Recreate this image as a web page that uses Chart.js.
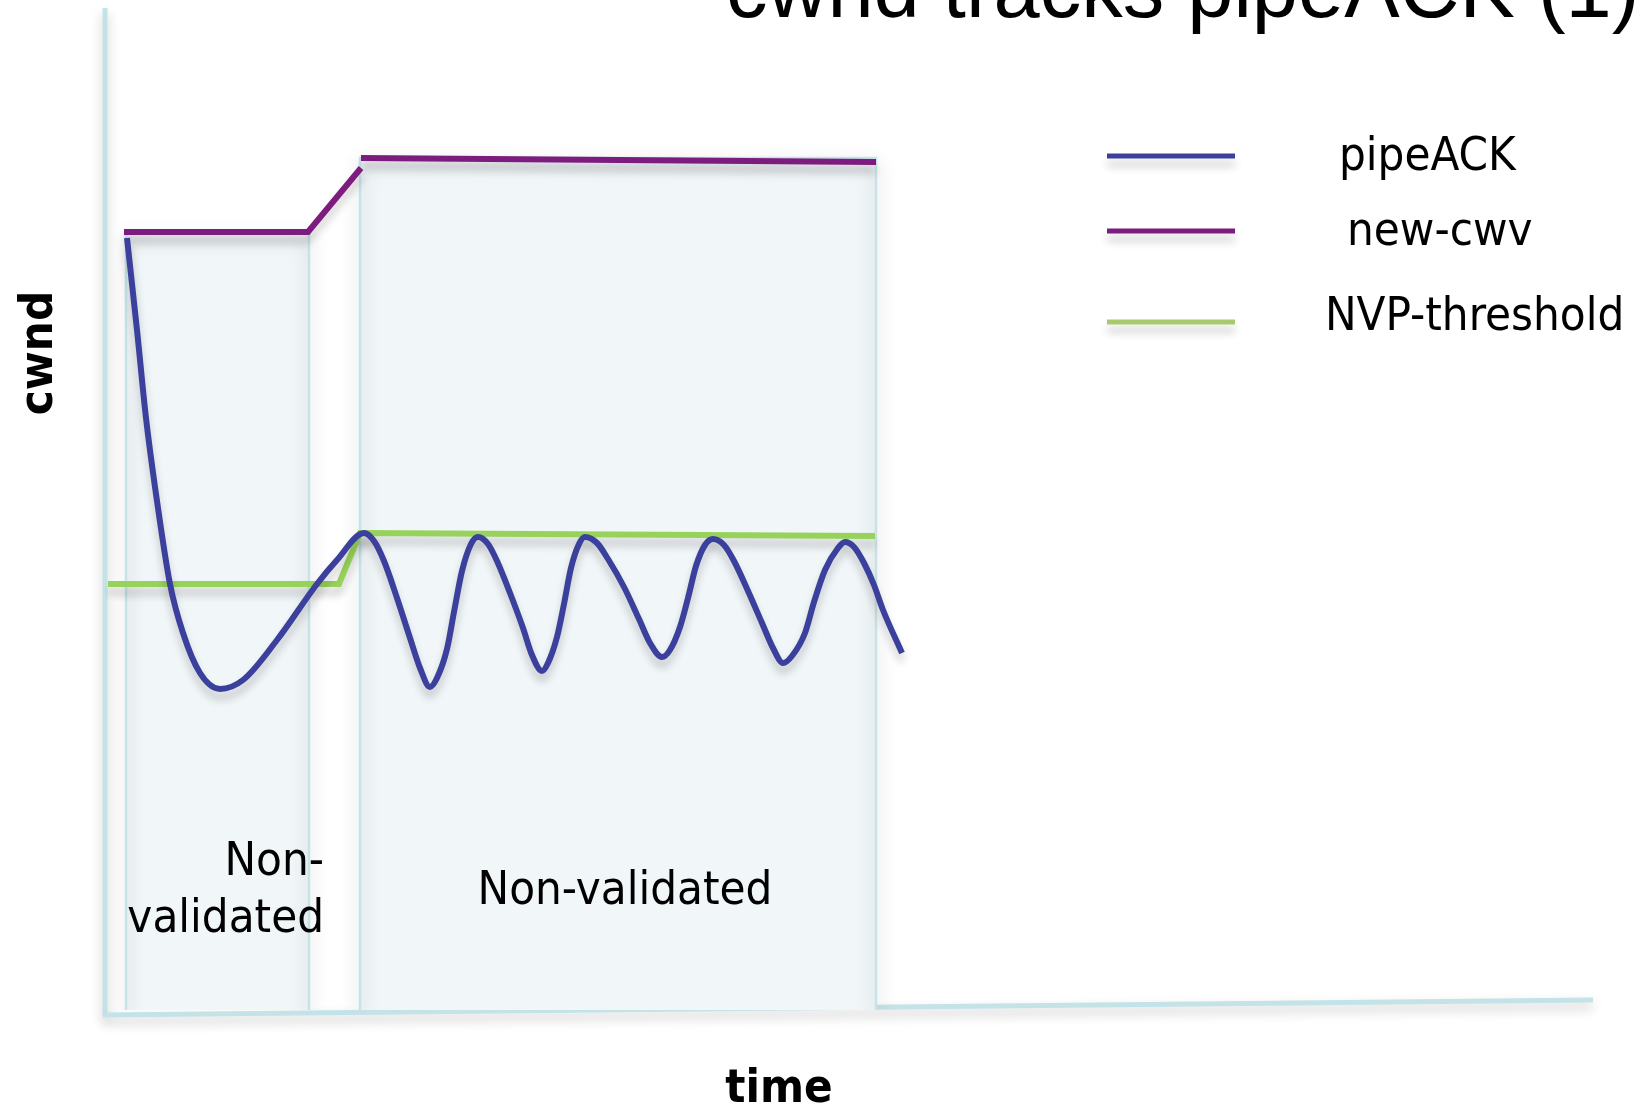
<!DOCTYPE html>
<html>
<head>
<meta charset="utf-8">
<title>cwnd tracks pipeACK (1)</title>
<script src="https://cdn.jsdelivr.net/npm/chart.js@4.4.1/dist/chart.umd.min.js"></script>
<style>
  html, body { margin: 0; padding: 0; background: #ffffff; }
  #wrap { width: 1638px; height: 1109px; position: relative; }
</style>
</head>
<body>
<div id="wrap"><canvas id="grafico"></canvas></div>
<script>
// Series names and chart texts
const seriesNames = ['pipeACK', 'new-cwv', 'NVP-threshold'];
const chartTitle = 'cwnd tracks pipeACK (1)';
const xTitle = 'time';
const yTitle = 'cwnd';

// pipeACK (time, cwnd)
const pipeTime = [2.2, 3.2, 4.1, 5.2, 6.5, 7.8, 9.5, 11.5, 13.8, 17.2, 21.2, 23.2, 25.9,
  26.9, 27.9, 29.2, 30.5, 31.5, 32.5,
  33.2, 34.2, 34.9, 35.7, 36.6, 37.3,
  38.3, 39.2, 40.5, 41.8, 42.7, 43.7,
  44.3, 45.2, 45.9, 46.6, 47.4, 48.0,
  49.2, 50.3, 51.9, 53.4, 54.5, 55.7,
  56.5, 57.5, 58.3, 59.1, 60.0, 60.8,
  61.9, 62.9, 64.3, 65.7, 66.8, 67.8,
  68.7, 70.0, 70.9, 72.0, 73.3, 74.0,
  74.9, 75.9, 76.9, 77.8, 79.7];
const pipeCwnd = [77.2, 68.0, 59.2, 50.9, 42.6, 37.7, 33.7, 32.1, 33.0, 37.0, 42.6, 45.0, 47.7,
  46.9, 44.9, 41.2, 37.2, 34.2, 32.3,
  33.2, 36.1, 39.8, 43.9, 46.6, 47.3,
  46.6, 44.9, 41.7, 38.2, 35.5, 33.9,
  34.7, 37.3, 40.6, 44.2, 46.6, 47.3,
  46.7, 45.1, 42.3, 39.1, 36.7, 35.3,
  36.0, 38.3, 41.2, 44.4, 46.5, 47.1,
  46.5, 44.9, 41.9, 38.7, 36.2, 34.7,
  35.4, 37.7, 40.8, 44.0, 46.2, 46.8,
  46.3, 44.7, 42.5, 40.0, 35.7];

// new-cwv (null = break between the ramp and the top level)
const cwvTime = [1.9, 20.3, 25.6, 25.6, 25.6, 77.1];
const cwvValue = [77.8, 77.8, 84.2, null, 85.2, 84.8];

// NVP-threshold
const nvpTime = [0.3, 23.4, 25.5, 77.0];
const nvpValue = [42.6, 42.6, 47.7, 47.4];

// Non-validated periods
const regionStart = [2.1, 25.5];
const regionEnd = [20.4, 77.1];
const regionTop = [77.8, 85.2];
const regionLabels = [['Non-', 'validated'], ['Non-validated']];

const xMax = 150;
const yMax = 100;

const zip = (xs, ys) => xs.map((x, i) => ({ x: x, y: ys[i] }));

let lineColors = ['#3b409c', '#7d1c7f', '#97d35b'];
let legendColors = ['#3b409c', '#7d1c7f', '#a8c96e'];
let fuente = '"DejaVu Sans Condensed", "DejaVu Sans", sans-serif';

let datasets = [
  {
    label: seriesNames[0],
    data: zip(pipeTime, pipeCwnd),
    borderColor: lineColors[0],
    borderWidth: 6,
    cubicInterpolationMode: 'monotone',
    pointRadius: 0,
    fill: false
  },
  {
    label: seriesNames[1],
    data: zip(cwvTime, cwvValue),
    borderColor: lineColors[1],
    borderWidth: 6,
    tension: 0,
    spanGaps: false,
    pointRadius: 0,
    fill: false
  },
  {
    label: seriesNames[2],
    data: zip(nvpTime, nvpValue),
    borderColor: lineColors[2],
    borderWidth: 6,
    tension: 0,
    pointRadius: 0,
    fill: false
  }
];

// one filled box per non-validated period
regionStart.forEach((s, i) => {
  datasets.push({
    label: 'region' + i,
    data: [
      { x: s, y: 0 }, { x: s, y: regionTop[i] },
      { x: regionEnd[i], y: regionTop[i] }, { x: regionEnd[i], y: 0 }
    ],
    borderColor: '#c6e4e8',
    borderWidth: 2.5,
    backgroundColor: '#f1f6f9',
    tension: 0,
    pointRadius: 0,
    fill: 'origin'
  });
});

// soft drop shadows like the slide
const sombras = {
  id: 'sombras',
  beforeDatasetDraw(chart, args) {
    let ctx = chart.ctx;
    ctx.save();
    if (args.index >= 3) {
      ctx.shadowColor = 'rgba(0,0,0,0.3)';
      ctx.shadowBlur = 18;
      ctx.shadowOffsetY = 6;
    } else {
      ctx.shadowColor = 'rgba(0,0,0,0.2)';
      ctx.shadowBlur = 8;
      ctx.shadowOffsetY = 8;
    }
  },
  afterDatasetDraw(chart) {
    chart.ctx.restore();
  }
};

// axes drawn before the datasets
const ejes = {
  id: 'ejes',
  beforeDatasetsDraw(chart) {
    let ctx = chart.ctx;
    let a = chart.chartArea;
    ctx.save();
    ctx.shadowColor = 'rgba(0,0,0,0.22)';
    ctx.shadowBlur = 12;
    ctx.shadowOffsetY = 6;
    ctx.strokeStyle = '#c3e3e7';
    ctx.lineWidth = 5;
    ctx.beginPath();
    ctx.moveTo(a.left, a.top - 2);
    ctx.lineTo(a.left, a.bottom + 6);
    ctx.stroke();
    ctx.beginPath();
    ctx.moveTo(a.left - 2, a.bottom + 5);
    ctx.lineTo(chart.scales.x.getPixelForValue(148.8), a.bottom - 10);
    ctx.stroke();
    ctx.restore();
  }
};

// texts: title, axis titles, legend, region labels
const textos = {
  id: 'textos',
  afterDraw(chart) {
    let ctx = chart.ctx;
    let x = chart.scales.x;
    ctx.save();
    ctx.fillStyle = '#000000';

    // title (cut by the top edge like in the slide)
    ctx.font = '83px "Liberation Sans", Arial, sans-serif';
    ctx.textAlign = 'left';
    ctx.textBaseline = 'alphabetic';
    ctx.fillText(chartTitle, 726, 17);

    // axis titles
    ctx.font = 'bold 47px ' + fuente;
    ctx.textAlign = 'center';
    ctx.fillText(xTitle, 779, 1102);
    ctx.save();
    ctx.translate(52, 353);
    ctx.rotate(-Math.PI / 2);
    ctx.fillText(yTitle, 0, 0);
    ctx.restore();

    // legend
    let legY = [156, 231, 322];
    let legTextX = [1339, 1347, 1325];
    let legTextY = [170, 245, 330];
    ctx.font = '47px ' + fuente;
    ctx.textAlign = 'left';
    seriesNames.forEach((n, i) => {
      ctx.save();
      ctx.shadowColor = 'rgba(0,0,0,0.2)';
      ctx.shadowBlur = 8;
      ctx.shadowOffsetY = 8;
      ctx.strokeStyle = legendColors[i];
      ctx.lineWidth = 5;
      ctx.beginPath();
      ctx.moveTo(1107, legY[i]);
      ctx.lineTo(1235, legY[i]);
      ctx.stroke();
      ctx.restore();
      ctx.fillText(n, legTextX[i], legTextY[i]);
    });

    // region labels
    ctx.textAlign = 'right';
    let r0 = x.getPixelForValue(regionEnd[0]) + 15;
    ctx.fillText(regionLabels[0][0], r0, 875);
    ctx.fillText(regionLabels[0][1], r0, 932);
    ctx.textAlign = 'center';
    let c1 = (x.getPixelForValue(regionStart[1]) + x.getPixelForValue(regionEnd[1])) / 2 + 7;
    ctx.fillText(regionLabels[1][0], c1, 904);
    ctx.restore();
  }
};

let ctxGrafico = document.getElementById('grafico').getContext('2d');
let grafico = new Chart(ctxGrafico, {
  type: 'line',
  data: { datasets: datasets },
  options: {
    responsive: true,
    maintainAspectRatio: false,
    animation: false,
    events: [],
    layout: { padding: { left: 105, right: 33, top: 10, bottom: 99 } },
    plugins: {
      legend: { display: false },
      tooltip: { enabled: false },
      title: { display: false }
    },
    scales: {
      x: { type: 'linear', min: 0, max: xMax, display: false },
      y: { type: 'linear', min: 0, max: yMax, display: false }
    }
  },
  plugins: [ejes, sombras, textos]
});
</script>
</body>
</html>
